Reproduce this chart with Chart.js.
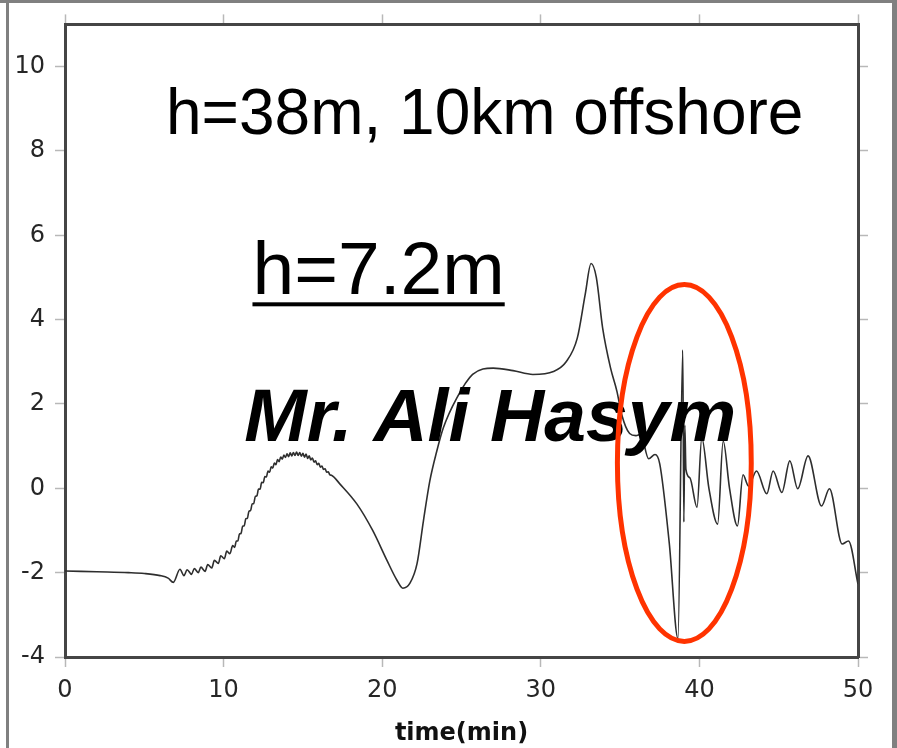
<!DOCTYPE html>
<html>
<head>
<meta charset="utf-8">
<script src="https://cdn.jsdelivr.net/npm/chart.js@4.4.1/dist/chart.umd.min.js"></script>
<style>
  html, body { margin: 0; padding: 0; background: #fff; }
  #wrap { width: 897px; height: 748px; }
</style>
</head>
<body>
<div id="wrap"><canvas id="waveChart" width="897" height="748"></canvas></div>
<script>
// water level record at the gauge, time in minutes
const timeMin = [
  0, 2, 4, 5, 6, 6.5, 6.83,
  7.25, 7.5, 7.7, 7.98, 8.15, 8.4, 8.57, 8.83, 9.0, 9.25, 9.42, 9.67, 9.82, 10.05, 10.2, 10.4, 10.57,
  10.7, 10.8, 10.9, 11.0, 11.1, 11.2, 11.3, 11.4, 11.5, 11.6, 11.7, 11.8, 11.9, 12.0, 12.1, 12.2,
  12.3, 12.4, 12.5, 12.6, 12.7, 12.8, 12.9, 13.0, 13.1, 13.2, 13.3, 13.4, 13.5, 13.6, 13.7, 13.8,
  13.9, 14.0, 14.1, 14.2, 14.3, 14.4, 14.5, 14.6, 14.7, 14.8, 14.9, 15.0, 15.1, 15.2, 15.3, 15.4,
  15.5, 15.6, 15.7, 15.8, 15.9, 16.0, 16.1, 16.2, 16.3, 16.4, 16.5, 16.6, 16.7, 16.8,
  17.34, 18.4, 19.4, 20.3, 20.93, 21.3, 21.75, 22.2, 22.6, 23.0, 23.44, 23.85, 24.7, 25.7, 27.0,
  28.25, 29.5, 30.8, 31.6, 32.3, 32.8, 33.17, 33.5, 33.9, 34.4, 34.8, 35.1, 35.6, 36.0, 36.3, 36.8,
  37.2, 37.5, 38.1, 38.65, 38.95, 39.02, 39.08, 39.15, 39.4, 39.85, 40.15, 40.6, 41.15, 41.5, 41.9,
  42.4, 42.75, 43.1, 43.6, 44.25, 44.65, 45.2, 45.7, 46.2, 46.85, 47.7, 48.2, 49.0, 49.4, 50
];
const height = [
  -1.96, -1.98, -2.0, -2.02, -2.07, -2.13, -2.23,
  -1.92, -2.07, -1.93, -2.04, -1.9, -2.0, -1.87, -1.97, -1.81, -1.89, -1.71, -1.78, -1.6, -1.67, -1.49, -1.55, -1.36,
  -1.40, -1.25, -1.25, -1.08, -1.07, -0.90, -0.89, -0.72, -0.71, -0.54, -0.53, -0.37, -0.36, -0.19, -0.18, -0.02,
  -0.02, 0.14, 0.13, 0.28, 0.27, 0.41, 0.38, 0.51, 0.48, 0.60, 0.56, 0.68, 0.63, 0.74, 0.69, 0.79,
  0.73, 0.82, 0.75, 0.84, 0.77, 0.85, 0.78, 0.86, 0.78, 0.85, 0.76, 0.83, 0.74, 0.81, 0.71, 0.77,
  0.67, 0.72, 0.62, 0.65, 0.56, 0.59, 0.50, 0.53, 0.45, 0.46, 0.38, 0.39, 0.32, 0.31,
  0.1, -0.37, -1.0, -1.71, -2.18, -2.37, -2.25, -1.78, -0.77, 0.17, 0.88, 1.43, 2.14, 2.7, 2.85,
  2.79, 2.7, 2.77, 3.0, 3.56, 4.6, 5.33, 5.0, 3.8, 2.85, 2.3, 1.75, 1.3, 1.25, 1.28, 0.7,
  0.8, 0.58, -1.3, -3.56, 3.28, -0.8, 1.5, 0.45, 0.25, -0.45, 1.2, 0.0, -0.85, 1.12, 0.0,
  -0.89, 0.32, 0.05, 0.41, -0.13, 0.41, -0.1, 0.65, -0.01, 0.77, -0.42, -0.01, -1.32, -1.25, -2.27
];
const xTicks = [0, 10, 20, 30, 40, 50];
const yTicks = [-4, -2, 0, 2, 4, 6, 8, 10];

const points = timeMin.map((t, i) => ({ x: t, y: height[i] }));

const tickFont = { family: "'DejaVu Sans', sans-serif", size: 24 };
const tickGrid = {
  drawOnChartArea: false,
  drawTicks: true,
  tickLength: 10,
  tickColor: '#b8b8b8',
  tickWidth: 1.5
};
const axisBorder = { display: true, color: '#454545', width: 3 };

// light grey page frame behind the chart
const framePlugin = {
  id: 'frame',
  beforeDraw(chart) {
    const ctx = chart.ctx;
    ctx.save();
    ctx.fillStyle = '#fff';
    ctx.fillRect(0, 0, chart.width, chart.height);
    ctx.fillStyle = '#808080';
    ctx.fillRect(0, 0, chart.width, 3);
    ctx.fillRect(6, 0, 3, chart.height);
    ctx.fillRect(892, 0, 5, chart.height);
    ctx.restore();
  }
};

// labels and the red ring around the spike
const notesPlugin = {
  id: 'notes',
  afterDatasetsDraw(chart) {
    const ctx = chart.ctx;
    const xs = chart.scales.x, ys = chart.scales.y;
    ctx.save();
    ctx.fillStyle = '#000';
    ctx.textBaseline = 'alphabetic';
    ctx.textAlign = 'left';

    ctx.font = "64px 'Liberation Sans', Arial, sans-serif";
    ctx.fillText('h=38m, 10km offshore', xs.getPixelForValue(6.37), ys.getPixelForValue(8.39));

    ctx.font = "75px 'Liberation Sans', Arial, sans-serif";
    const hx = xs.getPixelForValue(11.82), hy = ys.getPixelForValue(4.6);
    ctx.fillText('h=7.2m', hx, hy);
    const w = ctx.measureText('h=7.2m').width;
    ctx.fillRect(hx, hy + 8, w, 4);

    ctx.font = "italic bold 75px 'Liberation Sans', Arial, sans-serif";
    ctx.fillText('Mr. Ali Hasym', xs.getPixelForValue(11.3), ys.getPixelForValue(1.12));

    const cx = xs.getPixelForValue(39.05), cy = ys.getPixelForValue(0.6);
    const rx = xs.getPixelForValue(39.05 + 4.22) - cx;
    const ry = cy - ys.getPixelForValue(0.6 + 4.23);
    ctx.beginPath();
    ctx.ellipse(cx, cy, rx, ry, 0, 0, Math.PI * 2);
    ctx.strokeStyle = '#ff3300';
    ctx.lineWidth = 5;
    ctx.stroke();
    ctx.restore();
  }
};

new Chart(document.getElementById('waveChart').getContext('2d'), {
  type: 'line',
  data: {
    datasets: [{
      data: points,
      borderColor: '#2e2e2e',
      borderWidth: 1.6,
      pointRadius: 0,
      fill: false,
      cubicInterpolationMode: 'monotone'
    }]
  },
  options: {
    responsive: false,
    animation: false,
    layout: { padding: 0 },
    plugins: {
      legend: { display: false },
      tooltip: { enabled: false }
    },
    scales: {
      x: {
        type: 'linear',
        position: 'bottom',
        min: 0,
        max: 50,
        afterBuildTicks: s => { s.ticks = xTicks.map(v => ({ value: v })); },
        ticks: { font: tickFont, color: '#262626', padding: 9, maxRotation: 0 },
        grid: tickGrid,
        border: axisBorder,
        title: {
          display: true,
          text: 'time(min)',
          color: '#111',
          font: { family: "'DejaVu Sans', sans-serif", size: 24, weight: 'bold' },
          padding: { top: 0, bottom: 0 }
        },
        afterFit: s => { s.height = 91; }
      },
      xTop: {
        type: 'linear',
        position: 'top',
        min: 0,
        max: 50,
        afterBuildTicks: s => { s.ticks = xTicks.map(v => ({ value: v })); },
        ticks: { display: false },
        grid: tickGrid,
        border: axisBorder,
        afterFit: s => { s.height = 22; }
      },
      y: {
        type: 'linear',
        position: 'left',
        min: -4,
        max: 11,
        afterBuildTicks: s => { s.ticks = yTicks.map(v => ({ value: v })); },
        ticks: { font: tickFont, color: '#262626', padding: 10 },
        grid: tickGrid,
        border: axisBorder,
        afterFit: s => { s.width = 65; }
      },
      yRight: {
        type: 'linear',
        position: 'right',
        min: -4,
        max: 11,
        afterBuildTicks: s => { s.ticks = yTicks.map(v => ({ value: v })); },
        ticks: { display: false },
        grid: tickGrid,
        border: axisBorder,
        afterFit: s => { s.width = 39; }
      }
    }
  },
  plugins: [framePlugin, notesPlugin]
});
</script>
</body>
</html>
